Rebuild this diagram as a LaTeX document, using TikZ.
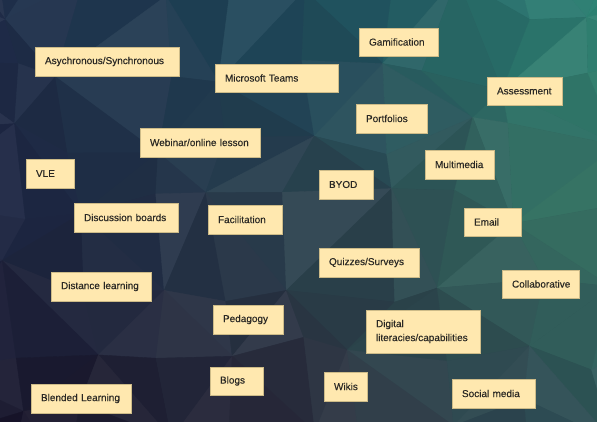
\documentclass[tikz,border=0pt]{standalone}
\usepackage{fontspec}
\setmainfont{Liberation Sans}
\newfontfamily\kwfont{Liberation Sans}[FakeBold=0.3]
\definecolor{c00}{HTML}{1F2C48}
\definecolor{c10}{HTML}{1D4C5E}
\definecolor{c20}{HTML}{2D8273}
\definecolor{c01}{HTML}{1C2542}
\definecolor{c11}{HTML}{283D4C}
\definecolor{c21}{HTML}{3A7A68}
\definecolor{c02}{HTML}{17142A}
\definecolor{c12}{HTML}{2A2A3A}
\definecolor{c22}{HTML}{2C5056}
\definecolor{kwfill}{HTML}{FFE8AF}
\definecolor{kwborder}{HTML}{CDBB88}
\definecolor{kwtext}{HTML}{2A2824}
\newcommand\mixrow[5]{\ifdim#2pt<50pt\pgfmathsetmacro\bgt{2*#2}\colorlet{#1}{#4!\bgt!#3}\else\pgfmathsetmacro\bgt{2*#2-100}\colorlet{#1}{#5!\bgt!#4}\fi}
\newcommand\polycol[2]{%
 \pgfmathsetmacro\bgu{max(0,min(100,(#1-1)*12.5))}%
 \pgfmathsetmacro\bgv{max(0,min(100,(#2-1)*16.66))}%
 \mixrow{rt}{\bgu}{c00}{c10}{c20}%
 \mixrow{rm}{\bgu}{c01}{c11}{c21}%
 \mixrow{rb}{\bgu}{c02}{c12}{c22}%
 \mixrow{cc}{\bgv}{rt}{rm}{rb}%
 \pgfmathsetmacro\bgk{rand*5.5}%
 \ifdim\bgk pt>0pt \pgfmathsetmacro\bgk{100-\bgk}\colorlet{cc}{cc!\bgk!white}\else\pgfmathsetmacro\bgk{100+\bgk}\colorlet{cc}{cc!\bgk!black}\fi}
\newcommand\kwbox[6]{%
 \pgfmathsetmacro\kww{#4-#2}\pgfmathsetmacro\kwh{#5-#3}\pgfmathsetmacro\kwt{#4-#2-20}%
 \node[kw,minimum width=\kww pt,minimum height=\kwh pt,text width=\kwt pt] (#1) at (#2,#3) {#6};}
\begin{document}
\begin{tikzpicture}[x=1pt,y=-1pt,
  kw/.style={draw=kwborder,line width=0.5pt,fill=kwfill,text=kwtext,inner xsep=10pt,inner ysep=2pt,outer sep=0pt,align=left,anchor=north west,font=\kwfont\fontsize{10}{14}\selectfont},
  poly/.style={fill=cc,draw=cc,line width=0.4pt,line join=round}]
\useasboundingbox (0,0) rectangle (597,422);
\begin{scope}
\clip (0,0) rectangle (597,422);
\fill[c11] (0,0) rectangle (597,422);
\pgfmathsetseed{11}
\foreach \i in {0,...,10}{\foreach \j in {0,...,8}{
  \pgfmathsetmacro\px{(\i-1)*74.6+rand*26}
  \pgfmathsetmacro\py{(\j-1)*70.3+rand*24}
  \coordinate (g\i-\j) at (\px,\py);}}
\foreach \i in {0,...,9}{\foreach \j in {0,...,7}{
  \pgfmathtruncatemacro\ni{\i+1}
  \pgfmathtruncatemacro\nj{\j+1}
  \pgfmathtruncatemacro\gpar{mod(\i+\j,2)}
  \ifnum\gpar=0
    \polycol{\i+0.67}{\j+0.33}
    \filldraw[poly] (g\i-\j) -- (g\ni-\j) -- (g\ni-\nj) -- cycle;
    \polycol{\i+0.33}{\j+0.67}
    \filldraw[poly] (g\i-\j) -- (g\ni-\nj) -- (g\i-\nj) -- cycle;
  \else
    \polycol{\i+0.33}{\j+0.33}
    \filldraw[poly] (g\i-\j) -- (g\ni-\j) -- (g\i-\nj) -- cycle;
    \polycol{\i+0.67}{\j+0.67}
    \filldraw[poly] (g\ni-\j) -- (g\ni-\nj) -- (g\i-\nj) -- cycle;
  \fi}}
\end{scope}
\kwbox{asy}{35}{47}{179}{76}{Asychronous/Synchronous}
\kwbox{mst}{215}{64}{338}{92}{Microsoft Teams}
\kwbox{web}{140}{128}{260}{157}{Webinar/online lesson}
\kwbox{vle}{26}{159}{74}{188}{VLE}
\kwbox{gam}{359}{28}{438}{56}{Gamification}
\kwbox{ass}{487}{77}{562}{105}{Assessment}
\kwbox{por}{356}{104}{427}{133}{Portfolios}
\kwbox{mul}{425}{150}{494}{179}{Multimedia}
\kwbox{byod}{319}{170}{373}{199}{BYOD}
\kwbox{ema}{464}{208}{521}{236}{Email}
\kwbox{dis}{74}{203}{178}{232}{Discussion boards}
\kwbox{fac}{208}{205}{282}{234}{Facilitation}
\kwbox{dlr}{51}{272}{151}{301}{Distance learning}
\kwbox{ped}{213}{305}{283}{334}{Pedagogy}
\kwbox{blo}{210}{367}{263}{395}{Blogs}
\kwbox{ble}{31}{384}{131}{413}{Blended Learning}
\kwbox{qui}{319}{248}{419}{277}{Quizzes/Surveys}
\kwbox{col}{502}{270}{579}{298}{Collaborative}
\kwbox{dig}{366}{310}{480}{353}{Digital\\literacies/capabilities}
\kwbox{wik}{324}{372}{367}{401}{Wikis}
\kwbox{soc}{452}{379}{535}{408}{Social media}
\end{tikzpicture}
\end{document}
